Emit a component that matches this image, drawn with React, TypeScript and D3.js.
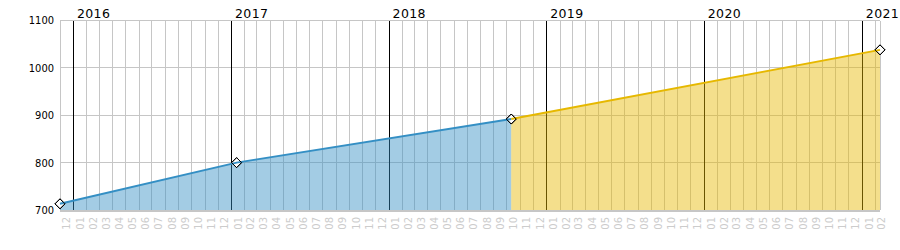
import React from "react";
import * as d3 from "d3";

// Data
const actualDates = ["2015-12-01", "2017-01-13", "2018-10-11"];
const actualValues = [713, 800, 892];
const forecastDates = ["2018-10-11", "2021-02-11"];
const forecastValues = [892, 1038];
const yTicks = [700, 800, 900, 1000, 1100];

const W = 900;
const H = 250;
const M = { left: 60, right: 20, top: 20.5, bottom: 40 };

const parse = d3.timeParse("%Y-%m-%d");

export default function App() {
  const actual = actualDates.map((d, i) => ({ date: parse(d) as Date, value: actualValues[i] }));
  const forecast = forecastDates.map((d, i) => ({ date: parse(d) as Date, value: forecastValues[i] }));
  const all = [...actual, ...forecast.slice(1)];

  const x = d3
    .scaleTime()
    .domain([all[0].date, all[all.length - 1].date])
    .range([M.left, W - M.right]);
  const y = d3.scaleLinear().domain([700, 1100]).range([210, M.top]);

  const [d0, d1] = x.domain();
  const months = d3.timeMonth.range(d3.timeMonth.floor(d0), d1);
  const years = d3.timeYear.range(d3.timeYear.ceil(d0), d3.timeDay.offset(d1, 1));
  const fmtM = d3.timeFormat("%m");
  const fmtY = d3.timeFormat("%Y");

  const area = d3
    .area<{ date: Date; value: number }>()
    .x((d) => x(d.date))
    .y0(y(700))
    .y1((d) => y(d.value));
  const line = d3
    .line<{ date: Date; value: number }>()
    .x((d) => x(d.date))
    .y((d) => y(d.value));

  const blue = "#348fc4";
  const yellow = "#e6b800";
  const grid = "#c6c6c6";
  const top = y(1100);
  const bottom = y(700);

  const diamond = (cx: number, cy: number, r: number) =>
    `M${cx},${cy - r}L${cx + r},${cy}L${cx},${cy + r}L${cx - r},${cy}Z`;

  return (
    <svg
      width={W}
      height={H}
      style={{ position: "absolute", left: 0, top: 0, background: "#fff" }}
      fontFamily="'DejaVu Sans', Verdana, sans-serif"
    >
      {/* month grid */}
      <g shapeRendering="crispEdges">
        {months.map((m, i) => (
          <line key={"m" + i} x1={x(m)} x2={x(m)} y1={top} y2={bottom} stroke={grid} strokeWidth={1} />
        ))}
        <line x1={W - M.right} x2={W - M.right} y1={top} y2={bottom} stroke={grid} />
        {yTicks.map((t) => (
          <line key={"h" + t} x1={M.left} x2={W - M.right} y1={y(t)} y2={y(t)} stroke={grid} />
        ))}
        {years.map((yy, i) => (
          <line key={"y" + i} x1={x(yy)} x2={x(yy)} y1={top} y2={bottom} stroke="#000" />
        ))}
      </g>

      {/* areas */}
      <path d={area(actual) ?? ""} fill={blue} fillOpacity={0.45} stroke="none" />
      <path d={area(forecast) ?? ""} fill={yellow} fillOpacity={0.45} stroke="none" />

      {/* bottom axis line */}
      <line x1={M.left} x2={W - M.right} y1={bottom + 1} y2={bottom + 1} stroke={grid} strokeWidth={2} shapeRendering="crispEdges" />

      {/* markers */}
      {all.map((d, i) => (
        <path key={"p" + i} d={diamond(x(d.date), y(d.value), 5)} fill="#fff" stroke="#000" strokeWidth={1} />
      ))}

      {/* lines */}
      <path d={line(actual) ?? ""} fill="none" stroke={blue} strokeWidth={2} />
      <path d={line(forecast) ?? ""} fill="none" stroke={yellow} strokeWidth={2} />

      {/* markers outline on top */}
      {all.map((d, i) => (
        <path key={"q" + i} d={diamond(x(d.date), y(d.value), 5)} fill="none" stroke="#000" strokeWidth={1} />
      ))}

      {/* y labels */}
      {yTicks.map((t) => (
        <text key={"yl" + t} x={54} y={y(t)} dy="0.36em" textAnchor="end" fontSize={11} fill="#000" style={{ fontStretch: "condensed" }}>
          {t}
        </text>
      ))}

      {/* year labels */}
      {years.map((yy, i) => (
        <text key={"yt" + i} x={x(yy) + 3.5} y={18} fontSize={12.5} letterSpacing={0.4} fill="#000">
          {fmtY(yy)}
        </text>
      ))}

      {/* month labels */}
      {months.map((m, i) => {
        const cx = (x(m) + x(d3.timeMonth.offset(m, 1))) / 2;
        return (
          <text
            key={"ml" + i}
            transform={`translate(${cx},217) rotate(-90)`}
            textAnchor="end"
            dy="0.36em"
            fontSize={10}
            fill="#cccccc"
          >
            {fmtM(m)}
          </text>
        );
      })}
    </svg>
  );
}
